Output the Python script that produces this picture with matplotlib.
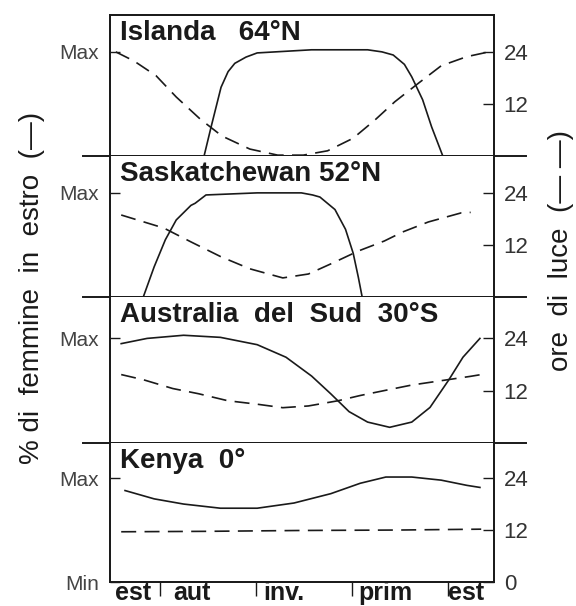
import matplotlib.pyplot as plt

plt.rcParams['font.family'] = ['Liberation Sans', 'DejaVu Sans']

# --- data (x = months from the left edge of the box) ---
panel_titles = ["Islanda   64°N", "Saskatchewan 52°N", "Australia  del  Sud  30°S", "Kenya  0°"]

# % of females in oestrus (100 = Max)
islanda_estro_x = [2.94, 3.16, 3.47, 3.69, 3.9, 4.25, 4.6, 6.3, 8.05, 8.5, 8.85, 9.2, 9.43, 9.77, 10.05, 10.4]
islanda_estro = [0, 28, 66, 81, 89, 95, 99, 102, 102, 100, 97, 88, 76, 54, 28, 0]
sask_estro_x = [1.04, 1.38, 1.73, 2.07, 2.53, 2.66, 3.0, 4.6, 5.98, 6.33, 6.56, 7.03, 7.36, 7.6, 7.76, 7.88]
sask_estro = [0, 29, 55, 74, 88, 90, 98, 100, 100, 98, 96, 84, 65, 42, 19, 0]
austr_estro_x = [0.35, 1.16, 2.3, 3.45, 4.6, 5.5, 6.3, 6.9, 7.47, 8.05, 8.74, 9.43, 10.0, 10.58, 11.03, 11.56]
austr_estro = [95, 100, 103, 101, 94, 82, 64, 47, 30, 20, 15, 20, 34, 60, 82, 100]
kenya_estro_x = [0.47, 1.38, 2.3, 3.45, 4.6, 5.75, 6.9, 7.82, 8.62, 9.43, 10.35, 11.15, 11.56]
kenya_estro = [88, 80, 75, 71, 71, 76, 85, 95, 101, 101, 98, 93, 91]

# hours of daylight
islanda_luce_x = [0.18, 0.75, 1.44, 2.07, 2.82, 3.5, 4.37, 5.24, 6.04, 6.8, 7.6, 8.28, 8.9, 9.66, 10.35, 11.15, 11.84]
islanda_luce = [24, 21.9, 18.5, 13.6, 8.5, 4.6, 1.6, 0.2, 0.2, 1.2, 4.1, 8.3, 12.5, 16.9, 20.8, 22.9, 24]
sask_luce_x = [0.35, 1.68, 2.53, 3.46, 4.37, 5.4, 6.2, 6.95, 7.76, 8.57, 9.15, 9.95, 10.98, 11.27]
sask_luce = [18.9, 15.9, 12.7, 9.3, 6.5, 4.4, 5.3, 7.8, 10.6, 12.9, 15.0, 17.3, 19.4, 19.5]
austr_luce_x = [0.35, 1.05, 1.96, 2.77, 3.68, 4.6, 5.4, 6.2, 7.13, 7.82, 8.62, 9.43, 10.35, 11.27, 11.6]
austr_luce = [15.7, 14.5, 12.5, 11.3, 9.7, 8.9, 8.1, 8.5, 9.7, 10.9, 12.1, 13.3, 14.3, 15.3, 15.7]
kenya_luce_x = [0.35, 3.0, 6.0, 9.0, 11.6]
kenya_luce = [11.6, 11.7, 11.9, 12.0, 12.2]

season_labels = ["est", "aut", "inv.", "prim", "est"]
season_ticks = [1.55, 4.55, 7.55, 10.55]
hour_ticks = [12, 24]

estro_series = [(islanda_estro_x, islanda_estro), (sask_estro_x, sask_estro),
                (austr_estro_x, austr_estro), (kenya_estro_x, kenya_estro)]
luce_series = [(islanda_luce_x, islanda_luce), (sask_luce_x, sask_luce),
               (austr_luce_x, austr_luce), (kenya_luce_x, kenya_luce)]

# --- layout (pixels of a 576x606 figure) ---
W, H = 576, 606
box_left, box_right = 110, 494
panel_edges = [15, 156, 297, 443, 582]
hours_top = [32.5, 32.5, 33.5, 32.1]   # hours at top edge of each panel
label_x = [0.16, 1.97, 4.78, 7.75, 10.56]
ink = '#1a1a1a'

fig = plt.figure(figsize=(W / 100, H / 100), dpi=100)

for i in range(4):
    top, bottom = panel_edges[i], panel_edges[i + 1]
    ax = fig.add_axes([box_left / W, 1 - bottom / H, (box_right - box_left) / W, (bottom - top) / H])
    ax.set_xlim(0, 12)
    ax.set_ylim(0, hours_top[i] * 100 / 24)

    # right axis: hours of light
    axr = ax.twinx()
    axr.set_ylim(0, hours_top[i])

    x, y = estro_series[i]
    ax.plot(x, y, color=ink, lw=1.2)
    x, y = luce_series[i]
    axr.plot(x, y, color=ink, lw=1.2, dashes=(9, 5))

    ax.text(0.026, 0.965, panel_titles[i], transform=ax.transAxes, va='top', ha='left',
            fontsize=20, fontweight='bold', color=ink)

    # left ticks: Max (and Min on the last panel)
    if i == 3:
        ax.set_yticks([0, 100], ["Min", "Max"])
        axr.set_yticks([0] + hour_ticks, ["0"] + [str(t) for t in hour_ticks])
    else:
        ax.set_yticks([100], ["Max"])
        axr.set_yticks(hour_ticks, [str(t) for t in hour_ticks])
    ax.tick_params(axis='y', direction='in', length=7, width=1, pad=8,
                   labelsize=15, labelcolor='#444444', color=ink)
    axr.tick_params(axis='y', direction='in', length=8, width=1, pad=7,
                    labelsize=16, labelcolor='#333333', color=ink)

    for a in (ax, axr):
        for s in a.spines.values():
            s.set_linewidth(1.3)
            s.set_color(ink)

    # divider lines run past the box on both sides
    if i < 3:
        ax.spines['bottom'].set_visible(False)
        ax.plot([-0.84, 13.0], [0, 0], transform=ax.get_xaxis_transform(),
                color=ink, lw=1.4, clip_on=False)
    if i > 0:
        ax.spines['top'].set_visible(False)
        axr.spines['top'].set_visible(False)

    if i < 3:
        ax.set_xticks([])
    else:
        ax.set_xticks(season_ticks, [""] * len(season_ticks))
        ax.tick_params(axis='x', direction='out', length=10, width=1, color=ink)
        # season names sit beside the ticks, at the very bottom of the figure
        for lx, lbl in zip(label_x, season_labels):
            ax.annotate(lbl, (lx, 1), xycoords=('data', 'figure pixels'),
                        ha='left', va='bottom', fontsize=18, fontweight='bold', color=ink)

fig.text(0.056, 0.525, "% di  femmine  in  estro  (—)", rotation=90,
         ha='center', va='center', fontsize=20, color=ink)
fig.text(574 / W, 0.587, "ore  di  luce  (— —)", rotation=90,
         ha='right', va='center', fontsize=20, color=ink)

fig.savefig('out.png', dpi=100)
